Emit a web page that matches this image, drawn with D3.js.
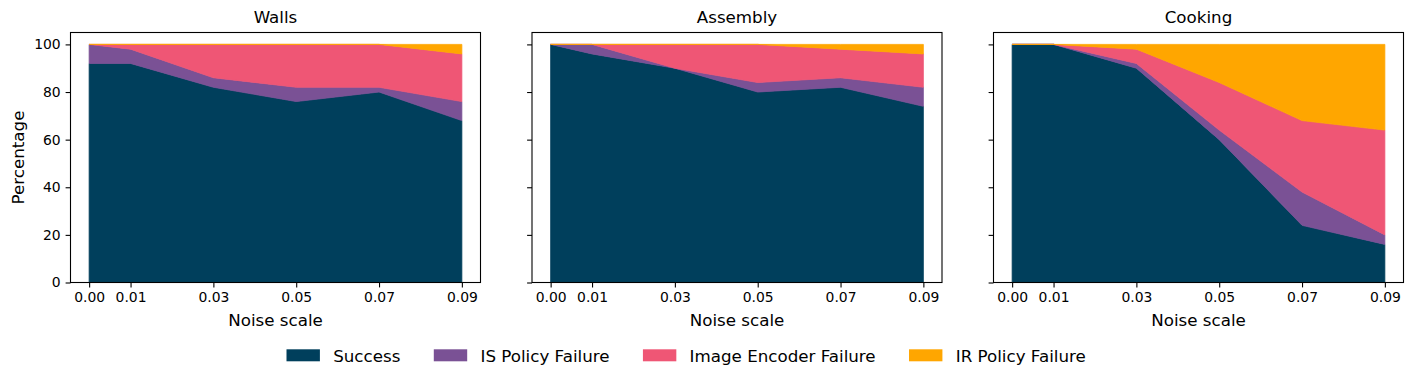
<!DOCTYPE html>
<html>
<head>
<meta charset="utf-8">
<script src="https://cdn.jsdelivr.net/npm/d3@7"></script>
<style>
  body { margin: 0; background: #fff; }
  svg { font-family: "DejaVu Sans", sans-serif; display: block; }
</style>
</head>
<body>
<svg id="chart" width="1413" height="382"></svg>
<script>
// values, percent of episodes
var noiseScales = [0, 0.01, 0.03, 0.05, 0.07, 0.09];
var noiseTicks = ["0.00", "0.01", "0.03", "0.05", "0.07", "0.09"];
var tasks = ["Walls", "Assembly", "Cooking"];
var outcomes = ["Success", "IS Policy Failure", "Image Encoder Failure", "IR Policy Failure"];
var colors = ["#003f5c", "#7a5195", "#ef5675", "#ffa600"];

var successPct  = [[92, 92, 82, 76, 80, 68], [100, 96, 90, 80, 82, 74], [100, 100, 90, 60, 24, 16]];
var isPolicyPct = [[8, 6, 4, 6, 2, 8],       [0, 4, 0, 4, 4, 8],        [0, 0, 2, 4, 14, 4]];
var encoderPct  = [[0, 2, 14, 18, 18, 20],   [0, 0, 10, 16, 12, 14],    [0, 0, 6, 20, 30, 44]];
var irPolicyPct = [[0, 0, 0, 0, 0, 4],       [0, 0, 0, 0, 2, 4],        [0, 0, 2, 16, 32, 36]];
var yTicks = [0, 20, 40, 60, 80, 100];

var svg = d3.select('#chart');
var panelLeft = [70.5, 532, 993.5];
var panelW = 410;
var plotTop = 32.5, plotBottom = 282.5;
var tickFont = "13.9px", labelFont = "16.7px";

var y = d3.scaleLinear().domain([0, 105]).range([plotBottom, plotTop]);

tasks.forEach(function(task, t) {
  var left = panelLeft[t];
  var x = d3.scaleLinear().domain([-0.0045, 0.0945]).range([left, left + panelW]);

  var rows = noiseScales.map(function(n, i) {
    return {
      noise: n,
      "Success": successPct[t][i],
      "IS Policy Failure": isPolicyPct[t][i],
      "Image Encoder Failure": encoderPct[t][i],
      "IR Policy Failure": irPolicyPct[t][i]
    };
  });
  var series = d3.stack().keys(outcomes)(rows);

  var area = d3.area()
    .x(function(d) { return x(d.data.noise); })
    .y0(function(d) { return y(d[0]); })
    .y1(function(d) { return y(d[1]); });

  var g = svg.append('g').attr('class', 'panel');

  g.selectAll('path.layer')
    .data(series)
    .enter().append('path')
    .attr('class', 'layer')
    .attr('fill', function(d, i) { return colors[i]; })
    .attr('stroke', function(d, i) { return colors[i]; })
    .attr('stroke-width', 0.8)
    .attr('stroke-linejoin', 'round')
    .attr('d', area);

  // x axis
  var xAxis = g.append('g')
    .attr('transform', 'translate(0,' + plotBottom + ')')
    .call(d3.axisBottom(x).tickValues(noiseScales)
      .tickFormat(function(d, i) { return noiseTicks[i]; })
      .tickSize(4.9).tickPadding(4.9));
  xAxis.select('.domain').remove();
  xAxis.selectAll('line').attr('stroke', '#000').attr('stroke-width', 1.1);
  xAxis.selectAll('text').attr('fill', '#000').style('font-size', tickFont)
    .style('font-family', '"DejaVu Sans", sans-serif');

  // y axis (labels only on first panel)
  var yAxis = g.append('g')
    .attr('transform', 'translate(' + left + ',0)')
    .call(d3.axisLeft(y).tickValues(yTicks)
      .tickFormat(t === 0 ? d3.format('d') : function() { return ''; })
      .tickSize(4.9).tickPadding(4.9));
  yAxis.select('.domain').remove();
  yAxis.selectAll('line').attr('stroke', '#000').attr('stroke-width', 1.1);
  yAxis.selectAll('text').attr('fill', '#000').style('font-size', tickFont)
    .style('font-family', '"DejaVu Sans", sans-serif');

  // frame
  g.append('rect')
    .attr('x', left).attr('y', plotTop)
    .attr('width', panelW).attr('height', plotBottom - plotTop)
    .attr('fill', 'none').attr('stroke', '#000').attr('stroke-width', 1.1);

  g.append('text')
    .attr('x', left + panelW / 2).attr('y', 23)
    .attr('text-anchor', 'middle')
    .style('font-size', labelFont)
    .text(task);

  g.append('text')
    .attr('x', left + panelW / 2).attr('y', 325.5)
    .attr('text-anchor', 'middle')
    .style('font-size', labelFont)
    .text('Noise scale');
});

svg.append('text')
  .attr('transform', 'translate(24,' + ((plotTop + plotBottom) / 2) + ') rotate(-90)')
  .attr('text-anchor', 'middle')
  .style('font-size', labelFont)
  .text('Percentage');

// legend
var legend = svg.append('g').attr('class', 'legend');
var lx = 286.5;
outcomes.forEach(function(name, i) {
  legend.append('rect')
    .attr('x', lx).attr('y', 349.3)
    .attr('width', 33.4).attr('height', 12)
    .attr('fill', colors[i]);
  var txt = legend.append('text')
    .attr('x', lx + 33.4 + 13.3).attr('y', 361.5)
    .style('font-size', labelFont)
    .text(name);
  lx += 33.4 + 13.3 + txt.node().getComputedTextLength() + 33.4;
});
</script>
</body>
</html>
